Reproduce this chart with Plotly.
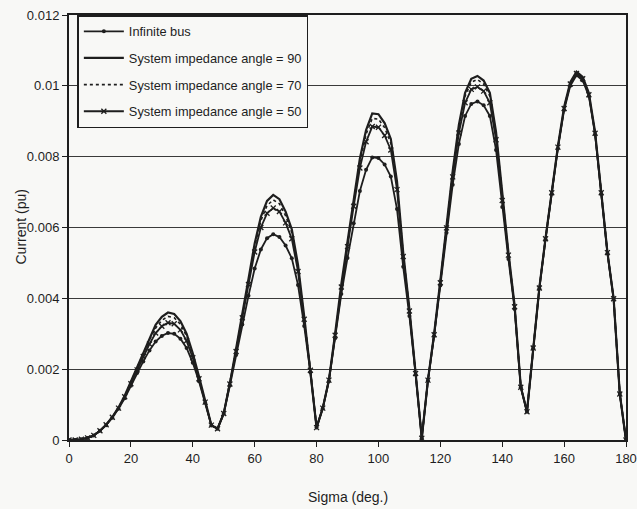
import plotly.graph_objects as go

# Conduction angle sigma (deg.)
sigma = list(range(0, 181, 2))

# Current values in units of 1e-3 pu
infinite_bus = [
    0.00, 0.00, 0.02, 0.06, 0.13, 0.26, 0.42, 0.63, 0.88, 1.18,
    1.53, 1.89, 2.22, 2.53, 2.78, 2.94, 3.02, 3.00, 2.86, 2.60,
    2.18, 1.66, 1.05, 0.41, 0.32, 0.74, 1.54, 2.40, 3.26, 4.07,
    4.84, 5.38, 5.70, 5.81, 5.73, 5.49, 5.13, 4.38, 3.22, 1.91,
    0.35, 0.89, 1.66, 2.87, 4.12, 5.14, 6.12, 7.03, 7.63, 7.98,
    7.96, 7.78, 7.44, 6.52, 4.89, 3.50, 1.85, 0.05, 1.68, 2.94,
    4.36, 5.85, 7.21, 8.36, 9.15, 9.49, 9.56, 9.45, 9.15, 8.19,
    6.58, 5.11, 3.70, 1.49, 0.80, 2.59, 4.28, 5.67, 6.95, 8.23,
    9.32, 10.00, 10.30, 10.15, 9.71, 8.63, 6.95, 5.27, 3.98, 1.30,
    0.00,
]
angle_90 = [
    0.00, 0.00, 0.02, 0.06, 0.13, 0.26, 0.43, 0.65, 0.92, 1.25,
    1.65, 2.08, 2.50, 2.90, 3.25, 3.48, 3.60, 3.56, 3.36, 3.00,
    2.45, 1.80, 1.10, 0.42, 0.32, 0.75, 1.60, 2.55, 3.55, 4.55,
    5.55, 6.30, 6.75, 6.92, 6.80, 6.45, 5.95, 4.95, 3.50, 2.00,
    0.35, 0.90, 1.70, 3.00, 4.40, 5.60, 6.80, 7.95, 8.75, 9.22,
    9.20, 8.95, 8.50, 7.30, 5.30, 3.70, 1.90, 0.05, 1.70, 3.00,
    4.50, 6.10, 7.60, 8.90, 9.80, 10.20, 10.28, 10.15, 9.80, 8.70,
    6.90, 5.30, 3.80, 1.50, 0.80, 2.60, 4.30, 5.70, 7.00, 8.30,
    9.40, 10.10, 10.40, 10.25, 9.80, 8.70, 7.00, 5.30, 4.00, 1.30,
    0.00,
]
angle_70 = [
    0.00, 0.00, 0.02, 0.06, 0.13, 0.26, 0.43, 0.65, 0.91, 1.24,
    1.63, 2.04, 2.45, 2.83, 3.16, 3.38, 3.49, 3.45, 3.27, 2.93,
    2.40, 1.77, 1.09, 0.42, 0.32, 0.75, 1.59, 2.53, 3.51, 4.49,
    5.46, 6.19, 6.62, 6.78, 6.67, 6.33, 5.85, 4.88, 3.46, 1.99,
    0.35, 0.90, 1.70, 2.99, 4.37, 5.55, 6.72, 7.85, 8.63, 9.08,
    9.06, 8.82, 8.38, 7.21, 5.25, 3.68, 1.89, 0.05, 1.70, 2.99,
    4.48, 6.06, 7.54, 8.82, 9.71, 10.10, 10.18, 10.05, 9.71, 8.63,
    6.85, 5.27, 3.79, 1.50, 0.80, 2.60, 4.30, 5.69, 6.99, 8.29,
    9.38, 10.08, 10.38, 10.23, 9.78, 8.69, 6.99, 5.29, 4.00, 1.30,
    0.00,
]
angle_50 = [
    0.00, 0.00, 0.02, 0.06, 0.13, 0.26, 0.43, 0.64, 0.90, 1.22,
    1.59, 1.98, 2.36, 2.71, 3.02, 3.21, 3.31, 3.28, 3.11, 2.80,
    2.32, 1.73, 1.07, 0.42, 0.32, 0.75, 1.58, 2.50, 3.45, 4.39,
    5.31, 6.00, 6.40, 6.55, 6.45, 6.13, 5.68, 4.76, 3.41, 1.97,
    0.35, 0.90, 1.69, 2.96, 4.32, 5.46, 6.60, 7.68, 8.42, 8.85,
    8.83, 8.60, 8.19, 7.07, 5.18, 3.64, 1.88, 0.05, 1.69, 2.97,
    4.44, 5.99, 7.43, 8.67, 9.52, 9.90, 9.97, 9.85, 9.52, 8.48,
    6.76, 5.22, 3.76, 1.49, 0.80, 2.60, 4.29, 5.68, 6.98, 8.27,
    9.36, 10.05, 10.35, 10.20, 9.75, 8.66, 6.98, 5.29, 3.99, 1.30,
    0.00,
]

series_names = [
    "Infinite bus",
    "System impedance angle = 90",
    "System impedance angle = 70",
    "System impedance angle = 50",
]
y_ticks = [0, 0.002, 0.004, 0.006, 0.008, 0.01, 0.012]
y_tick_text = ["0", "0.002", "0.004", "0.006", "0.008", "0.01", "0.012"]
x_ticks = [0, 20, 40, 60, 80, 100, 120, 140, 160, 180]
x_title = "Sigma (deg.)"
y_title = "Current (pu)"

INK = "#1e1e1e"
BG = "#f8f8f6"
FONT = "Liberation Sans, Arial, sans-serif"

W, H = 637, 509
ML, MR, MT, MB = 69, 11, 15, 69
PW, PH = W - ML - MR, H - MT - MB


def pu(vals):
    return [v / 1000.0 for v in vals]


fig = go.Figure()
fig.add_trace(go.Scatter(
    x=sigma, y=pu(infinite_bus), name=series_names[0], mode="lines+markers",
    line=dict(color=INK, width=1.8), marker=dict(symbol="circle", size=4, color=INK),
    legendgroup="a"))
fig.add_trace(go.Scatter(
    x=sigma, y=pu(angle_90), name=series_names[1], mode="lines",
    line=dict(color=INK, width=2.2), legendgroup="b"))
fig.add_trace(go.Scatter(
    x=sigma, y=pu(angle_70), name=series_names[2], mode="lines",
    line=dict(color=INK, width=1.6, dash="dot"), legendgroup="c"))
fig.add_trace(go.Scatter(
    x=sigma, y=pu(angle_50), name=series_names[3], mode="lines+markers",
    line=dict(color=INK, width=1.8),
    marker=dict(symbol="x-thin", size=5, line=dict(color=INK, width=1.3)),
    legendgroup="d"))

fig.update_layout(
    width=W, height=H,
    margin=dict(l=ML, r=MR, t=MT, b=MB, autoexpand=False),
    paper_bgcolor=BG, plot_bgcolor=BG,
    font=dict(family=FONT, size=13, color=INK),
    showlegend=True,
    legend=dict(
        x=0.015, y=1.0, xanchor="left", yanchor="top",
        bgcolor=BG, bordercolor=INK, borderwidth=1.5,
        font=dict(family=FONT, size=12.8, color=INK),
        tracegroupgap=7, itemwidth=40,
    ),
    xaxis=dict(
        range=[0, 180], tickvals=x_ticks, showgrid=False, zeroline=False,
        showline=True, linecolor=INK, linewidth=2, mirror=True,
        ticks="outside", ticklen=5, tickcolor=INK, automargin=False,
    ),
    yaxis=dict(
        range=[0, 0.012], tickvals=y_ticks, ticktext=y_tick_text,
        showgrid=True, gridcolor="#3a3a3a", gridwidth=1.2, zeroline=False,
        showline=True, linecolor=INK, linewidth=2, mirror=True,
        ticks="outside", ticklen=5, tickcolor=INK, automargin=False,
    ),
    annotations=[
        dict(text=x_title, xref="paper", yref="paper",
             x=0.5, y=-(497 - (MT + PH)) / PH, xanchor="center", yanchor="middle",
             showarrow=False, font=dict(size=14)),
        dict(text=y_title, xref="paper", yref="paper",
             x=-(ML - 20) / PW, y=0.5, xanchor="center", yanchor="middle",
             textangle=-90, showarrow=False, font=dict(size=14)),
    ],
)

fig.write_html("out.html")
